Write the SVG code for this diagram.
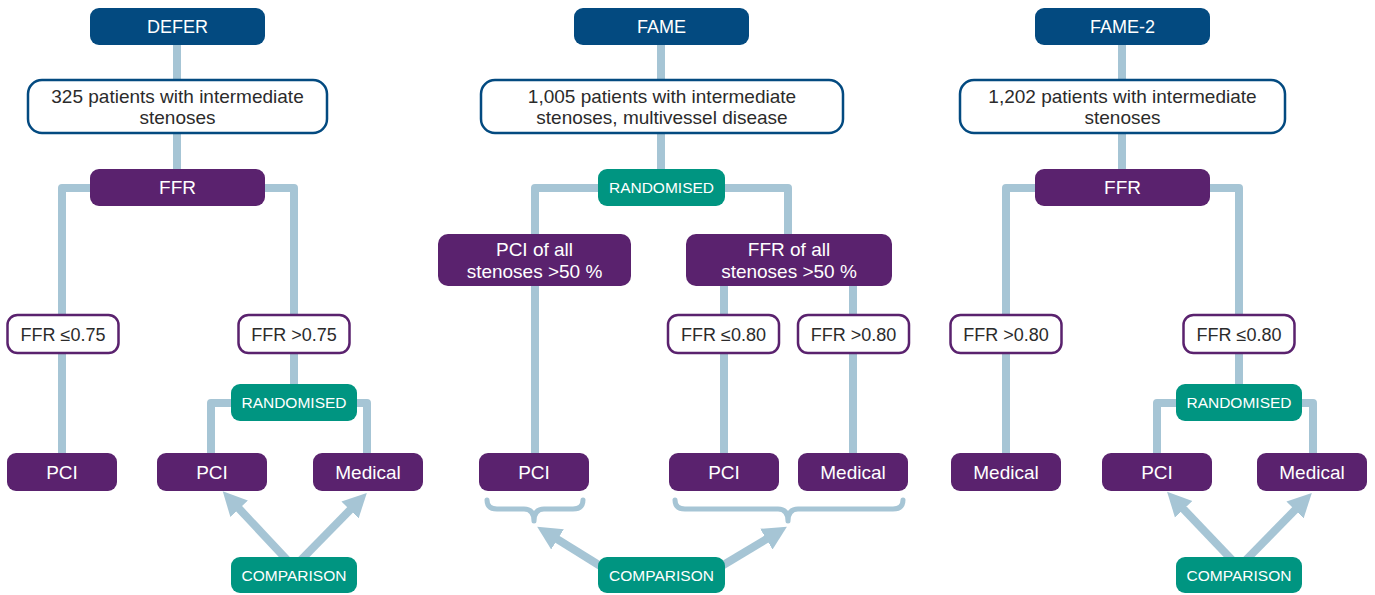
<svg xmlns="http://www.w3.org/2000/svg" width="1375" height="595" viewBox="0 0 1375 595">
<defs>
<style>
text{font-family:"Liberation Sans",Arial,sans-serif;text-anchor:middle}
.trial rect{fill:#034a80}
.trial text{fill:#fff;font-size:18px}
.info rect{fill:#fff;stroke:#034a80;stroke-width:2.5}
.info text{fill:#2b2b2b;font-size:19px}
.step rect{fill:#5a226e}
.step text{fill:#fff;font-size:19px}
.val rect{fill:#fff;stroke:#5a226e;stroke-width:2.5}
.val text{fill:#2b2b2b;font-size:18px}
.rand rect{fill:#009581}
.rand text{fill:#fff;font-size:15.5px}
.link{fill:none;stroke:#a6c5d5;stroke-width:8;stroke-linejoin:round}
.brace{fill:none;stroke:#a6c5d5;stroke-width:5;stroke-linecap:round;stroke-linejoin:round}
.arrow{fill:none;stroke:#a6c5d5;stroke-width:8;marker-end:url(#ah)}
</style>
<marker id="ah" viewBox="0 0 10 10" refX="1" refY="5" markerWidth="3" markerHeight="3.3" orient="auto" markerUnits="strokeWidth">
<path d="M0,0 L10,5 L0,10 z" fill="#a6c5d5"/>
</marker>
</defs>
<rect width="1375" height="595" fill="#fff"/>
<g id="connectors">
<path class="link" d="M177,45 V80 M177,133 V169 M62,453 V188 H294 V384 M211,453 V403 H367 V453"/>
<path class="link" d="M661,45 V80 M661,133 V169 M535,453 V188 H788 V234 M724,286 V453 M853,286 V453"/>
<path class="link" d="M1122,45 V80 M1122,133 V169 M1006,453 V188 H1239 V384 M1157,453 V403 H1313 V453"/>
<path class="brace" d="M487,500 q0,9 10,9 H524 q10,0 10,12 q0,-12 10,-12 H573 q10,0 10,-9"/>
<path class="brace" d="M675,500 q0,9 10,9 H778 q10,0 10,12 q0,-12 10,-12 H893 q10,0 10,-9"/>
<path class="arrow" d="M289,562 L237.5,507"/>
<path class="arrow" d="M299,562 L351.7,508.3"/>
<path class="arrow" d="M602,567 L555.5,538.1"/>
<path class="arrow" d="M720,567 L768.4,537.9"/>
<path class="arrow" d="M1234,562 L1182,507.5"/>
<path class="arrow" d="M1244,562 L1296.7,508.3"/>
</g>
<!-- DEFER -->
<g id="defer" class="trial"><rect x="90" y="8" width="175" height="37" rx="9"/><text x="177.5" y="32.5">DEFER</text></g>
<g id="defer-patients" class="info"><rect x="28" y="80" width="299" height="53" rx="14"/><text x="177.5" y="102.5">325 patients with intermediate</text><text x="177.5" y="124">stenoses</text></g>
<g id="defer-ffr" class="step"><rect x="90" y="169" width="175" height="37" rx="9"/><text x="177.5" y="193.5">FFR</text></g>
<g id="defer-le075" class="val"><rect x="7.5" y="315" width="111" height="38" rx="10"/><text x="63" y="340.5">FFR ≤0.75</text></g>
<g id="defer-gt075" class="val"><rect x="238.5" y="315" width="111" height="38" rx="10"/><text x="294" y="340.5">FFR &gt;0.75</text></g>
<g id="defer-rand" class="rand"><rect x="231" y="384" width="126" height="37" rx="9"/><text x="294" y="408">RANDOMISED</text></g>
<g id="defer-pci1" class="step"><rect x="7" y="453" width="110" height="38" rx="9"/><text x="62" y="478.5">PCI</text></g>
<g id="defer-pci2" class="step"><rect x="157" y="453" width="110" height="38" rx="9"/><text x="212" y="478.5">PCI</text></g>
<g id="defer-med" class="step"><rect x="313" y="453" width="110" height="38" rx="9"/><text x="368" y="478.5">Medical</text></g>
<g id="defer-comp" class="rand"><rect x="231" y="557" width="126" height="36" rx="9"/><text x="294" y="580.5">COMPARISON</text></g>
<!-- FAME -->
<g id="fame" class="trial"><rect x="574" y="8" width="175" height="37" rx="9"/><text x="661.5" y="32.5">FAME</text></g>
<g id="fame-patients" class="info"><rect x="481" y="80" width="362" height="53" rx="14"/><text x="662" y="102.5">1,005 patients with intermediate</text><text x="662" y="124">stenoses, multivessel disease</text></g>
<g id="fame-rand" class="rand"><rect x="598" y="169" width="127" height="37" rx="9"/><text x="661.5" y="193">RANDOMISED</text></g>
<g id="fame-pciall" class="step"><rect x="438" y="234" width="193" height="52" rx="10"/><text x="534.5" y="256">PCI of all</text><text x="534.5" y="278">stenoses &gt;50 %</text></g>
<g id="fame-ffrall" class="step"><rect x="686" y="234" width="206" height="52" rx="10"/><text x="789" y="256">FFR of all</text><text x="789" y="278">stenoses &gt;50 %</text></g>
<g id="fame-le080" class="val"><rect x="668" y="315" width="111" height="38" rx="10"/><text x="723.5" y="340.5">FFR ≤0.80</text></g>
<g id="fame-gt080" class="val"><rect x="798" y="315" width="111" height="38" rx="10"/><text x="853.5" y="340.5">FFR &gt;0.80</text></g>
<g id="fame-pci1" class="step"><rect x="479" y="453" width="110" height="38" rx="9"/><text x="534" y="478.5">PCI</text></g>
<g id="fame-pci2" class="step"><rect x="669" y="453" width="110" height="38" rx="9"/><text x="724" y="478.5">PCI</text></g>
<g id="fame-med" class="step"><rect x="798" y="453" width="110" height="38" rx="9"/><text x="853" y="478.5">Medical</text></g>
<g id="fame-comp" class="rand"><rect x="598" y="557" width="127" height="36" rx="9"/><text x="661.5" y="580.5">COMPARISON</text></g>
<!-- FAME-2 -->
<g id="fame2" class="trial"><rect x="1035" y="8" width="175" height="37" rx="9"/><text x="1122.5" y="32.5">FAME-2</text></g>
<g id="fame2-patients" class="info"><rect x="960" y="80" width="325" height="53" rx="14"/><text x="1122.5" y="102.5">1,202 patients with intermediate</text><text x="1122.5" y="124">stenoses</text></g>
<g id="fame2-ffr" class="step"><rect x="1035" y="169" width="175" height="37" rx="9"/><text x="1122.5" y="193.5">FFR</text></g>
<g id="fame2-gt080" class="val"><rect x="950.5" y="315" width="111" height="38" rx="10"/><text x="1006" y="340.5">FFR &gt;0.80</text></g>
<g id="fame2-le080" class="val"><rect x="1183.5" y="315" width="111" height="38" rx="10"/><text x="1239" y="340.5">FFR ≤0.80</text></g>
<g id="fame2-rand" class="rand"><rect x="1176" y="384" width="126" height="37" rx="9"/><text x="1239" y="408">RANDOMISED</text></g>
<g id="fame2-med1" class="step"><rect x="951" y="453" width="110" height="38" rx="9"/><text x="1006" y="478.5">Medical</text></g>
<g id="fame2-pci" class="step"><rect x="1102" y="453" width="110" height="38" rx="9"/><text x="1157" y="478.5">PCI</text></g>
<g id="fame2-med2" class="step"><rect x="1257" y="453" width="110" height="38" rx="9"/><text x="1312" y="478.5">Medical</text></g>
<g id="fame2-comp" class="rand"><rect x="1176" y="557" width="126" height="36" rx="9"/><text x="1239" y="580.5">COMPARISON</text></g>
</svg>
